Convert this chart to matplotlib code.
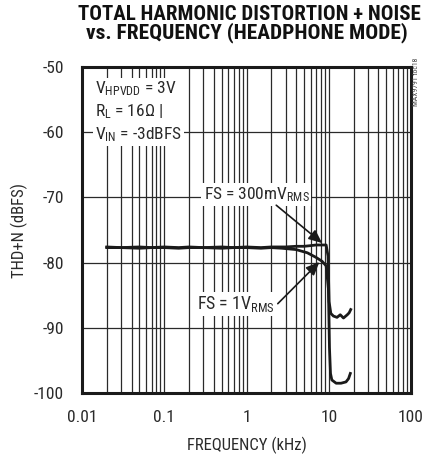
import matplotlib
matplotlib.use("Agg")
import matplotlib.pyplot as plt
from matplotlib import font_manager as fm
from matplotlib.ticker import FixedLocator, NullFormatter

# ---- pick a narrow sans font if one is installed ----
ttf = fm.fontManager.ttflist
names = {f.name for f in ttf}
FAMILY = "Liberation Sans"
STRETCH = "normal"
for cand in ["Liberation Sans Narrow", "Roboto Condensed", "Open Sans Condensed", "Noto Sans Condensed"]:
    if cand in names:
        FAMILY = cand
        break
else:
    for fam in ["Liberation Sans", "DejaVu Sans", "Noto Sans", "Roboto", "Open Sans"]:
        if any(f.name == fam and f.stretch in ("condensed", "semi-condensed", "extra-condensed", 75, 87.5)
               for f in ttf):
            FAMILY, STRETCH = fam, "condensed"
            break

plt.rcParams['font.family'] = [FAMILY, 'DejaVu Sans']
plt.rcParams['font.stretch'] = STRETCH
plt.rcParams['mathtext.fontset'] = 'custom'
plt.rcParams['mathtext.rm'] = FAMILY
plt.rcParams['mathtext.it'] = FAMILY
plt.rcParams['mathtext.bf'] = FAMILY

# ---------------- data ----------------
f_300mv = [0.02, 0.03, 0.05, 0.07, 0.1, 0.15, 0.2, 0.3, 0.5, 0.7, 1, 1.5, 2, 3, 4, 5, 6, 7, 8, 9.3,
           9.8, 10.1, 10.6, 11.4, 12.6, 13.8, 15.1, 16.8, 17.7, 18.5]
thd_300mv = [-77.6, -77.7, -77.6, -77.7, -77.6, -77.7, -77.6, -77.7, -77.6, -77.7, -77.6, -77.7,
             -77.6, -77.6, -77.5, -77.5, -77.4, -77.3, -77.3, -77.3,
             -79.0, -86.0, -87.8, -88.2, -88.4, -88.0, -88.5, -88.0, -87.7, -87.2]

f_1v = [0.02, 0.03, 0.05, 0.07, 0.1, 0.15, 0.2, 0.3, 0.5, 0.7, 1, 1.5, 2, 2.7, 4, 5.5, 7, 8.3, 9.3,
        9.9, 10.2, 10.5, 10.9, 12.3, 14.1, 16.2, 17.4, 18.3]
thd_1v = [-77.7, -77.7, -77.8, -77.7, -77.7, -77.8, -77.7, -77.7, -77.8, -77.7, -77.7, -77.8,
          -77.7, -77.8, -78.0, -78.5, -79.2, -79.8, -80.5,
          -84.0, -93.0, -97.0, -98.0, -98.5, -98.5, -98.3, -97.8, -97.0]

x_ticks = [0.01, 0.1, 1, 10, 100]
x_tick_labels = ["0.01", "0.1", "1", "10", "100"]
y_ticks = [-100, -90, -80, -70, -60, -50]
y_tick_labels = ["-100", "-90", "-80", "-70", "-60", "-50"]

# ---------------- figure ----------------
fig = plt.figure(figsize=(4.23, 4.57), dpi=100)
ax = fig.add_axes([82/423, 1-393/457, (411-82)/423, (393-67)/457])

ax.set_xscale('log')
ax.set_xlim(0.01, 100)
ax.set_ylim(-100, -50)

minor = [m * 10.0**e for e in range(-2, 2) for m in range(2, 10)]
ax.xaxis.set_major_locator(FixedLocator(x_ticks))
ax.xaxis.set_minor_locator(FixedLocator(minor))
ax.xaxis.set_minor_formatter(NullFormatter())
ax.set_xticklabels(x_tick_labels)
ax.set_yticks(y_ticks)
ax.set_yticklabels(y_tick_labels)

ax.grid(True, which='both', axis='x', color='#2a2a2a', lw=0.9)
ax.grid(True, which='major', axis='y', color='#2a2a2a', lw=0.9)
ax.set_axisbelow(True)
ax.tick_params(which='both', length=0, labelsize=12.5, colors='#2a2a2a')
ax.tick_params(axis='x', pad=12)
ax.tick_params(axis='y', pad=13)
for s in ax.spines.values():
    s.set_linewidth(2.2)
    s.set_color('#1a1a1a')

ax.plot(f_300mv, thd_300mv, color='#1a1a1a', lw=2.0, zorder=3)
ax.plot(f_1v, thd_1v, color='#1a1a1a', lw=2.0, zorder=3)

ax.set_xlabel("FREQUENCY (kHz)", fontsize=12, color='#2a2a2a', labelpad=9)
ax.set_ylabel("THD+N (dBFS)", fontsize=12, color='#2a2a2a', labelpad=4)

bb = dict(facecolor='white', edgecolor='none', pad=1.5)
ax.text(0.0143, -56.9, "V$_{\\mathrm{HPVDD}}$ = 3V\nR$_{\\mathrm{L}}$ = 16$\\Omega$ |\nV$_{\\mathrm{IN}}$ = -3dBFS",
        fontsize=12.5, color='#2a2a2a', ha='left', va='center', linespacing=1.3, bbox=bb, zorder=4)

arrowprops = dict(arrowstyle='-|>,head_length=0.8,head_width=0.35', color='#1a1a1a', lw=1.2,
                  shrinkA=0, shrinkB=0)
ax.annotate("", xy=(8.3, -77.0), xytext=(2.3, -71.2), arrowprops=arrowprops, zorder=5)
ax.annotate("", xy=(7.7, -79.9), xytext=(2.4, -86.3), arrowprops=arrowprops, zorder=5)
t300 = ax.text(1.32, -69.6, "FS = 300mV$_{\\mathrm{RMS}}$", fontsize=12, color='#2a2a2a',
               ha='center', va='center', bbox=bb, zorder=4)
t1v = ax.text(0.74, -86.4, "FS = 1V$_{\\mathrm{RMS}}$", fontsize=12, color='#2a2a2a',
              ha='center', va='center', bbox=bb, zorder=4)

fig.text(413/423, 1-82/457, "MAX9791 toc18", rotation=90, fontsize=5.5, color='#444444',
         ha='left', va='center')

title1 = fig.text(249/423, 1-15/457, "TOTAL HARMONIC DISTORTION + NOISE", fontsize=14, fontweight='bold',
                  ha='center', va='center', color='#111111')
title2 = fig.text(247/423, 1-33/457, "vs. FREQUENCY (HEADPHONE MODE)", fontsize=14, fontweight='bold',
                  ha='center', va='center', color='#111111')

# fit widths of texts to the reference pixel widths
fig.canvas.draw()
r = fig.canvas.get_renderer()
for t, target in [(title1, 342), (title2, 323), (t300, 106), (t1v, 78)]:
    w = t.get_window_extent(r).width
    t.set_fontsize(t.get_fontsize() * target / w)

fig.savefig("out.png", dpi=100)
